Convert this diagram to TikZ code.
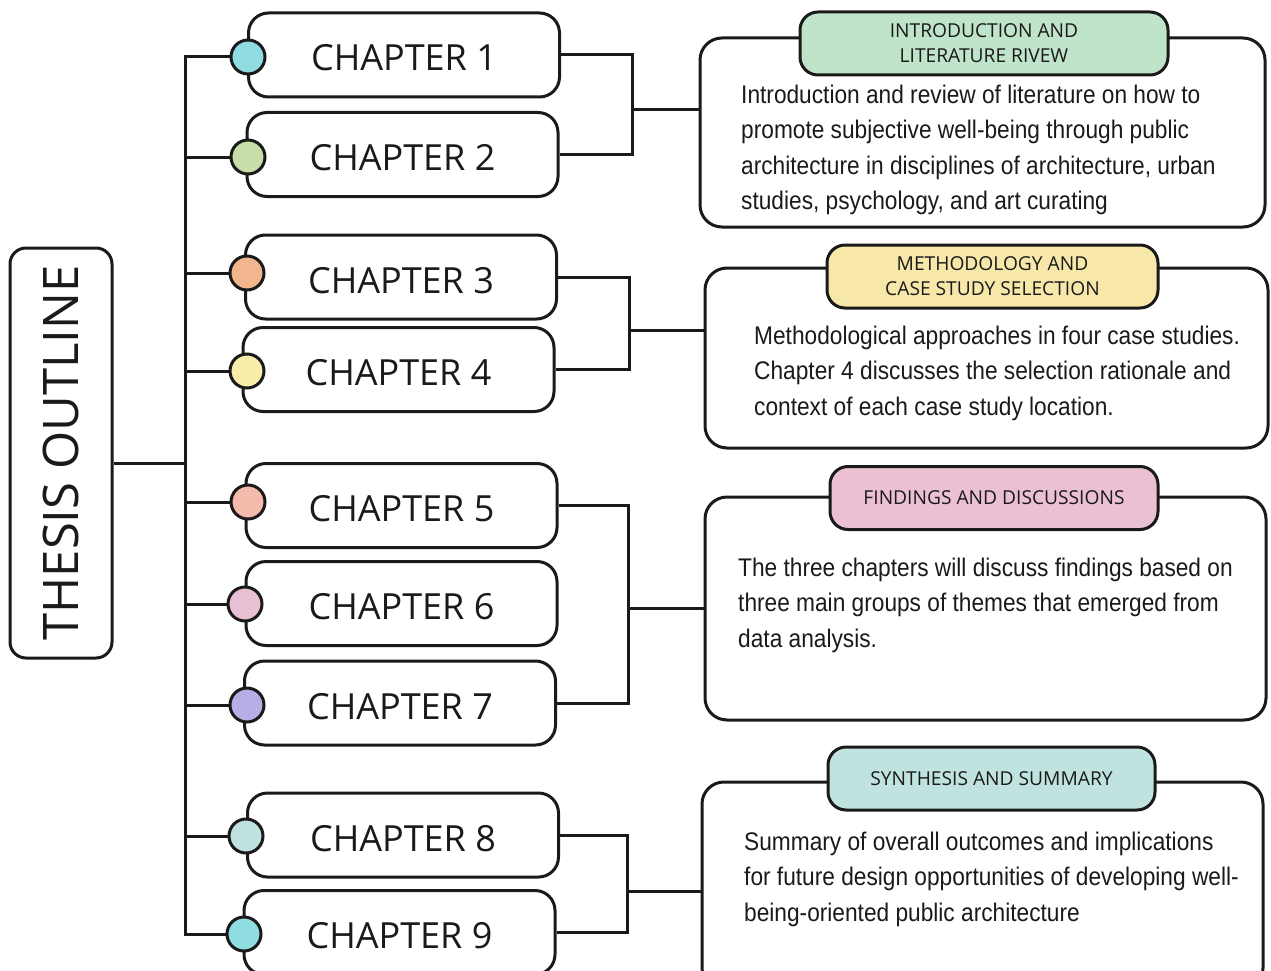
\documentclass[tikz,border=0pt]{standalone}
\usepackage{fontspec}
\newfontfamily\headfont{Open Sans}
\newfontfamily\bodyfont[FakeStretch=0.89]{Liberation Sans}
\definecolor{ink}{HTML}{1A1A1A}
\definecolor{cCyan}{HTML}{8FDDE0}
\definecolor{cGreen}{HTML}{C8DEA8}
\definecolor{cOrange}{HTML}{F2B68E}
\definecolor{cYellow}{HTML}{F9EDAC}
\definecolor{cSalmon}{HTML}{F4BAAC}
\definecolor{cPink}{HTML}{E8BFD3}
\definecolor{cLav}{HTML}{B5AFE5}
\definecolor{cTeal}{HTML}{BFE1DF}
\definecolor{hGreen}{HTML}{C0E4C9}
\definecolor{hYellow}{HTML}{F7E8AA}
\definecolor{hPink}{HTML}{EBC0D3}
\definecolor{hTeal}{HTML}{C0E3E0}
\begin{document}
\begin{tikzpicture}[x=1pt,y=-1pt,
  link/.style={draw=ink, line width=3pt, line join=miter},
  chapbox/.style={draw=ink, line width=3pt, rounded corners=20pt, fill=white,
    minimum width=311pt, minimum height=84pt, inner sep=0pt,
    font=\headfont\fontsize{36}{40}\selectfont, text=ink, text height=32pt, text depth=0pt},
  dot/.style={circle, draw=ink, line width=3pt, minimum size=34pt, inner sep=0pt},
  bigbox/.style={draw=ink, line width=3pt, rounded corners=22pt, fill=white, inner sep=0pt},
  headbox/.style={draw=ink, line width=3pt, rounded corners=18pt, minimum height=63pt,
    inner sep=0pt, align=center, text=ink, font=\headfont\fontsize{19.2}{25}\selectfont},
  bodytext/.style={anchor=north west, inner sep=0pt, align=left, text=ink,
    font=\bodyfont\fontsize{25.5}{35.5}\selectfont},
  thesisbox/.style={draw=ink, line width=3pt, rounded corners=16pt, fill=white,
    minimum width=102pt, minimum height=410pt, inner sep=0pt, text=ink,
    font=\headfont\fontsize{49}{55}\selectfont}
]
\useasboundingbox (0,0) rectangle (1271,971);
\clip (0,0) rectangle (1271,971);

% Thesis box
\node[thesisbox] (thesis) at (61,453) {\rotatebox{90}{THESIS OUTLINE}};

% Chapter boxes
\node[chapbox] (c1) at (404,55) {CHAPTER 1};
\node[chapbox] (c2) at (402.5,154.5) {CHAPTER 2};
\node[chapbox] (c3) at (401,277) {CHAPTER 3};
\node[chapbox] (c4) at (398.5,369.5) {CHAPTER 4};
\node[chapbox] (c5) at (401.5,505.5) {CHAPTER 5};
\node[chapbox] (c6) at (401.5,603.5) {CHAPTER 6};
\node[chapbox] (c7) at (400,703) {CHAPTER 7};
\node[chapbox] (c8) at (403,835) {CHAPTER 8};
\node[chapbox] (c9) at (399.5,932.5) {CHAPTER 9};

% Circles
\node[dot, fill=cCyan]   (d1) at (248,57) {};
\node[dot, fill=cGreen]  (d2) at (248,157) {};
\node[dot, fill=cOrange] (d3) at (247,273) {};
\node[dot, fill=cYellow] (d4) at (247,371) {};
\node[dot, fill=cSalmon] (d5) at (248,502) {};
\node[dot, fill=cPink]   (d6) at (245,604) {};
\node[dot, fill=cLav]    (d7) at (247,705) {};
\node[dot, fill=cTeal]   (d8) at (246,836) {};
\node[dot, fill=cCyan]   (d9) at (244,934) {};

% Trunk
\coordinate (trunk) at (185,463);
\draw[link] (trunk -| thesis.east) -- (trunk);
\draw[link] (d1.west) -- (d1.west -| trunk) -- (d9.west -| trunk) -- (d9.west);
\foreach \i in {2,...,8} {\draw[link] (d\i.west) -- (d\i.west -| trunk);}

% Big boxes
\node[bigbox, minimum width=565pt, minimum height=189pt] (b1) at (982.5,132.5) {};
\node[bigbox, minimum width=563pt, minimum height=180pt] (b2) at (986.5,358) {};
\node[bigbox, minimum width=561pt, minimum height=223pt] (b3) at (985.5,608.5) {};
\node[bigbox, minimum width=561pt, minimum height=208pt] (b4) at (982.5,886) {};

% Headers
\node[headbox, fill=hGreen,  minimum width=368pt] (h1) at (984,43.5) {INTRODUCTION AND\\LITERATURE RIVEW};
\node[headbox, fill=hYellow, minimum width=331pt] (h2) at (992.5,276.5) {METHODOLOGY AND\\CASE STUDY SELECTION};
\node[headbox, fill=hPink,   minimum width=328pt] (h3) at (994,498) {FINDINGS AND DISCUSSIONS};
\node[headbox, fill=hTeal,   minimum width=327pt] (h4) at (991.5,778.5) {SYNTHESIS AND SUMMARY};

% Body texts
\node[bodytext] (t1) at (741,78) {\strut Introduction and review of literature on how to\\promote subjective well-being through public\\architecture in disciplines of architecture, urban\\studies, psychology, and art curating};
\node[bodytext] (t2) at (754,319) {\strut Methodological approaches in four case studies.\\Chapter 4 discusses the selection rationale and\\context of each case study location.};
\node[bodytext] (t3) at (738,551) {\strut The three chapters will discuss findings based on\\three main groups of themes that emerged from\\data analysis.};
\node[bodytext] (t4) at (744,825) {\strut Summary of overall outcomes and implications\\for future design opportunities of developing well-\\being-oriented public architecture};

% Brackets
\coordinate (br1) at (632,110);
\coordinate (br2) at (629,330);
\coordinate (br3) at (628,608);
\coordinate (br4) at (627,891);
\draw[link] (c1.east) -- (c1.east -| br1) -- (c2.east -| br1) -- (c2.east);
\draw[link] (br1) -- (br1 -| b1.west);
\draw[link] (c3.east) -- (c3.east -| br2) -- (c4.east -| br2) -- (c4.east);
\draw[link] (br2) -- (br2 -| b2.west);
\draw[link] (c5.east) -- (c5.east -| br3) -- (c7.east -| br3) -- (c7.east);
\draw[link] (br3) -- (br3 -| b3.west);
\draw[link] (c8.east) -- (c8.east -| br4) -- (c9.east -| br4) -- (c9.east);
\draw[link] (br4) -- (br4 -| b4.west);
\end{tikzpicture}
\end{document}
